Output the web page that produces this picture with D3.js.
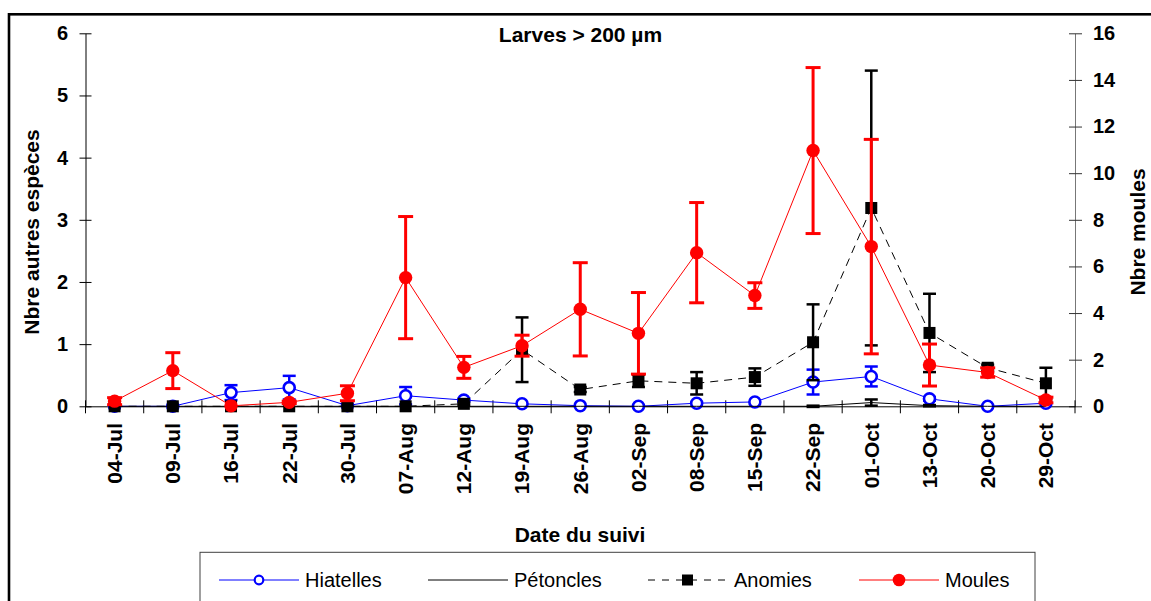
<!DOCTYPE html>
<html><head><meta charset="utf-8">
<script src="https://cdn.jsdelivr.net/npm/d3@7"></script>
<style>
html,body{margin:0;padding:0;background:#fff;}
svg{display:block;font-family:"Liberation Sans",Arial,sans-serif;}
</style></head>
<body>
<svg id="chart" width="1151" height="601"></svg>
<script>
// ---------- DATA ----------
const categories = ["04-Jul","09-Jul","16-Jul","22-Jul","30-Jul","07-Aug","12-Aug","19-Aug","26-Aug","02-Sep","08-Sep","15-Sep","22-Sep","01-Oct","13-Oct","20-Oct","29-Oct"];
const leftTicks = [0,1,2,3,4,5,6];
const rightTicks = [0,2,4,6,8,10,12,14,16];
// left axis series (Nbre autres espèces)
const hiatelles    = [0,0,0.22,0.30,0.01,0.17,0.10,0.04,0.01,0,0.05,0.07,0.39,0.48,0.12,0,0.05];
const hiatellesErr = [0,0,0.12,0.19,0,0.14,0.02,0,0,0,0,0,0.20,0.16,0.03,0,0];
const petoncles    = [0,0,0,0,0,0,0,0,0,0,0,0,0,0.06,0.01,0,0];
const petonclesErr = [0,0,0,0,0,0,0,0,0,0,0,0,0.01,0.05,0.01,0,0];
const anomies      = [0,0,0,0,0,0,0.04,0.91,0.27,0.41,0.37,0.47,1.03,3.19,1.18,0.62,0.37];
const anomiesErr   = [0,0,0,0,0,0,0.02,0.52,0.04,0.10,0.18,0.14,0.61,2.21,0.63,0.05,0.25];
// right axis series (Nbre moules)
const moules       = [0.22,1.53,0.02,0.17,0.56,5.52,1.67,2.60,4.16,3.13,6.59,4.75,10.97,6.85,1.77,1.45,0.27];
const moulesErr    = [0.15,0.77,0,0.05,0.32,2.62,0.47,0.45,2.00,1.75,2.15,0.55,3.56,4.60,0.90,0.20,0.12];

// ---------- LAYOUT ----------
const svg = d3.select("#chart");
const FONT = '"Liberation Sans",Arial,sans-serif';
const x = d3.scaleBand().domain(categories).range([85.5,1075]);
const yL = d3.scaleLinear().domain([0,6]).range([406.3,33.3]);
const yR = d3.scaleLinear().domain([0,16]).range([406.3,33.3]);
const cx = c => x(c) + x.bandwidth()/2;

// outer frame
svg.append("rect").attr("x",9).attr("y",14.3).attr("width",1300).attr("height",800)
  .attr("fill","none").attr("stroke","#000").attr("stroke-width",2.6);

// left axis
const gL = svg.append("g").attr("transform","translate(85.5,0)")
  .call(d3.axisLeft(yL).tickValues(leftTicks).tickSize(6).tickSizeOuter(0).tickPadding(11.5).tickFormat(d3.format("d")));
gL.select(".domain").attr("stroke","#000");
gL.selectAll(".tick line").attr("x1",6).attr("stroke","#000");
gL.selectAll(".tick text").attr("font-size",20).attr("font-weight","bold").attr("font-family",FONT).attr("fill","#000");

// right axis
const gR = svg.append("g").attr("transform","translate(1075,0)")
  .call(d3.axisRight(yR).tickValues(rightTicks).tickSize(7).tickSizeOuter(0).tickPadding(11).tickFormat(d3.format("d")));
gR.select(".domain").attr("stroke","#777");
gR.selectAll(".tick line").attr("x1",-6).attr("stroke","#333");
gR.selectAll(".tick text").attr("font-size",20).attr("font-weight","bold").attr("font-family",FONT).attr("fill","#000");

// x axis
const gX = svg.append("g").attr("transform","translate(0,406.3)")
  .call(d3.axisBottom(x).tickSize(0).tickSizeOuter(0).tickPadding(0));
gX.select(".domain").attr("stroke","#000");
gX.selectAll(".tick text").remove();
const bounds = categories.map(c => x(c)).concat([x.range()[1]]);
gX.selectAll("line.bt").data(bounds).enter().append("line").attr("class","bt")
  .attr("x1",d=>d).attr("x2",d=>d).attr("y1",-6).attr("y2",7).attr("stroke","#000");
svg.append("g").selectAll("text").data(categories).enter().append("text")
  .attr("transform",d=>`translate(${cx(d)},423) rotate(-90)`)
  .attr("text-anchor","end").attr("dy","0.35em")
  .attr("font-size",21).attr("font-weight","bold").attr("fill","#000").text(d=>d);

// titles
svg.append("text").attr("x",580.5).attr("y",42.3).attr("text-anchor","middle")
  .attr("font-size",21).attr("font-weight","bold").text("Larves > 200 µm");
svg.append("text").attr("x",580).attr("y",542).attr("text-anchor","middle")
  .attr("font-size",21).attr("font-weight","bold").text("Date du suivi");
svg.append("text").attr("transform","translate(39,232) rotate(-90)").attr("text-anchor","middle")
  .attr("font-size",21).attr("font-weight","bold").text("Nbre autres espèces");
svg.append("text").attr("transform","translate(1145,232) rotate(-90)").attr("text-anchor","middle")
  .attr("font-size",21).attr("font-weight","bold").text("Nbre moules");

// ---------- SERIES ----------
function drawSeries(vals, errs, y, opt){
  const g = svg.append("g");
  const line = d3.line().x((d,i)=>cx(categories[i])).y(d=>y(d));
  g.append("path").datum(vals).attr("d",line).attr("fill","none")
    .attr("stroke",opt.color).attr("stroke-width",1).attr("stroke-dasharray",opt.dash||null);
  vals.forEach((v,i)=>{
    const e = errs[i];
    if(!e) return;
    const px = cx(categories[i]);
    const eg = g.append("g").attr("stroke",opt.color).attr("stroke-width",opt.ew);
    eg.append("line").attr("x1",px).attr("x2",px).attr("y1",y(v-e)).attr("y2",y(v+e));
    [v-e, v+e].forEach(t=>{
      eg.append("line").attr("x1",px-opt.cap/2).attr("x2",px+opt.cap/2).attr("y1",y(t)).attr("y2",y(t));
    });
  });
  if(opt.marker==="circle"){
    g.selectAll("circle").data(vals).enter().append("circle")
      .attr("cx",(d,i)=>cx(categories[i])).attr("cy",d=>y(d)).attr("r",opt.r)
      .attr("fill",opt.fill).attr("stroke",opt.color).attr("stroke-width",opt.sw||0);
  } else if(opt.marker==="square"){
    g.selectAll("rect").data(vals).enter().append("rect")
      .attr("x",(d,i)=>cx(categories[i])-opt.s/2).attr("y",d=>y(d)-opt.s/2)
      .attr("width",opt.s).attr("height",opt.s).attr("fill",opt.color);
  }
}
drawSeries(hiatelles, hiatellesErr, yL, {color:"#0000ff", ew:2.5, cap:13, marker:"circle", r:5.5, fill:"#fff", sw:2.6});
drawSeries(petoncles, petonclesErr, yL, {color:"#000", ew:2.5, cap:13});
drawSeries(anomies, anomiesErr, yL, {color:"#000", ew:2.5, cap:13, marker:"square", s:12, dash:"8,6"});
drawSeries(moules, moulesErr, yR, {color:"#ff0000", ew:3, cap:15, marker:"circle", r:6.7, fill:"#ff0000"});

// ---------- LEGEND ----------
const legendNames = ["Hiatelles","Pétoncles","Anomies","Moules"];
const legendX = [219,428,648,859];
const legendStyle = [
  {color:"#0000ff", marker:"circle", fill:"#fff"},
  {color:"#000"},
  {color:"#000", marker:"square", dash:"7,7"},
  {color:"#ff0000", marker:"circle", fill:"#ff0000"}
];
svg.append("rect").attr("x",200).attr("y",552.3).attr("width",835).attr("height",100)
  .attr("fill","#fff").attr("stroke","#404040").attr("stroke-width",1);
const ly = 580;
legendNames.forEach((n,i)=>{
  const s = legendStyle[i], x0 = legendX[i];
  svg.append("line").attr("x1",x0).attr("x2",x0+80).attr("y1",ly).attr("y2",ly)
    .attr("stroke",s.color).attr("stroke-width",1).attr("stroke-dasharray",s.dash||null);
  if(s.marker==="circle"){
    if(s.fill==="#fff") svg.append("circle").attr("cx",x0+40).attr("cy",ly).attr("r",4.3).attr("fill","#fff").attr("stroke",s.color).attr("stroke-width",2.2);
    else svg.append("circle").attr("cx",x0+40).attr("cy",ly).attr("r",6.3).attr("fill",s.fill);
  } else if(s.marker==="square"){
    svg.append("rect").attr("x",x0+39.5-5.5).attr("y",ly-5.5).attr("width",11).attr("height",11).attr("fill",s.color);
  }
  svg.append("text").attr("x",x0+86).attr("y",586.7).attr("font-size",20).attr("fill","#000").text(n);
});
</script>
</body></html>
